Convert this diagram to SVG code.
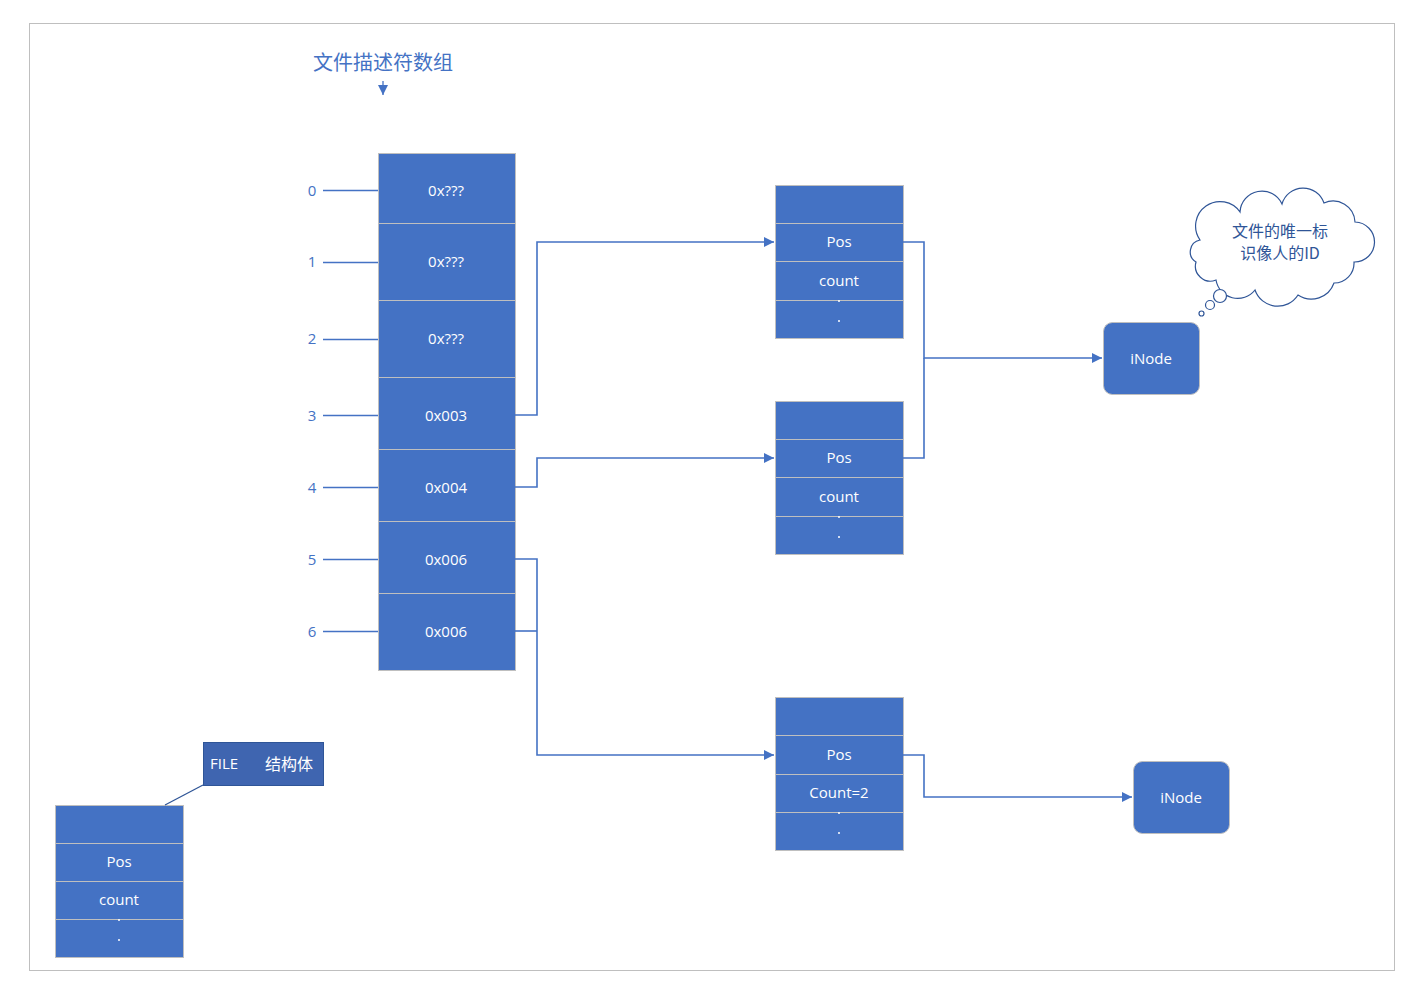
<svg xmlns="http://www.w3.org/2000/svg" width="1420" height="993" viewBox="0 0 1420 993">
<defs>
<marker id="arr" viewBox="0 0 10 10" refX="10" refY="5" markerWidth="10" markerHeight="10" markerUnits="userSpaceOnUse" orient="auto"><path d="M0,0 L10,5 L0,10 z" fill="#4472C4"/></marker>
<style>
.cell{fill:#4472C4;stroke:#BFBFBF;stroke-width:1}
.t{font-family:"Open Sans","Noto Sans","Noto Sans CJK SC",sans-serif;font-size:15px;fill:#FFFFFF;text-anchor:middle;dominant-baseline:central}
.lbl{font-family:"Open Sans","Noto Sans",sans-serif;font-size:15px;fill:#4472C4;text-anchor:middle;dominant-baseline:central}
.ln{stroke:#4472C4;stroke-width:1.3;fill:none}
.con{stroke:#4472C4;stroke-width:1.6;fill:none}
</style>
</defs>
<rect x="0" y="0" width="1420" height="993" fill="#FFFFFF"/>
<rect x="29.5" y="23.5" width="1365" height="947" fill="none" stroke="#BFBFBF" stroke-width="1"/>

<g id="title">
<text x="383" y="61" style="font-family:'Noto Sans CJK SC',sans-serif;font-size:20px;fill:#4472C4;text-anchor:middle;dominant-baseline:central">文件描述符数组</text>
<line x1="383" y1="81" x2="383" y2="95" class="ln" marker-end="url(#arr)"/>
</g>

<g id="fd-array">
<rect class="cell" x="378.5" y="153.5" width="137" height="70"/>
<rect class="cell" x="378.5" y="223.5" width="137" height="77"/>
<rect class="cell" x="378.5" y="300.5" width="137" height="77"/>
<rect class="cell" x="378.5" y="377.5" width="137" height="72"/>
<rect class="cell" x="378.5" y="449.5" width="137" height="72"/>
<rect class="cell" x="378.5" y="521.5" width="137" height="72"/>
<rect class="cell" x="378.5" y="593.5" width="137" height="77"/>
<text class="t" x="446" y="190">0x???</text>
<text class="t" x="446" y="261">0x???</text>
<text class="t" x="446" y="338">0x???</text>
<text class="t" x="446" y="415">0x003</text>
<text class="t" x="446" y="487">0x004</text>
<text class="t" x="446" y="559">0x006</text>
<text class="t" x="446" y="631">0x006</text>
</g>

<g id="indices">
<text class="lbl" x="312" y="190">0</text>
<text class="lbl" x="312" y="261">1</text>
<text class="lbl" x="312" y="338">2</text>
<text class="lbl" x="312" y="415">3</text>
<text class="lbl" x="312" y="487">4</text>
<text class="lbl" x="312" y="559">5</text>
<text class="lbl" x="312" y="631">6</text>
<line class="ln" x1="323" y1="190.5" x2="378" y2="190.5"/>
<line class="ln" x1="323" y1="262.5" x2="378" y2="262.5"/>
<line class="ln" x1="323" y1="339.5" x2="378" y2="339.5"/>
<line class="ln" x1="323" y1="415.5" x2="378" y2="415.5"/>
<line class="ln" x1="323" y1="487.5" x2="378" y2="487.5"/>
<line class="ln" x1="323" y1="559.5" x2="378" y2="559.5"/>
<line class="ln" x1="323" y1="631.5" x2="378" y2="631.5"/>
</g>

<g id="file1">
<rect class="cell" x="775.5" y="185.5" width="128" height="38"/>
<rect class="cell" x="775.5" y="223.5" width="128" height="38"/>
<rect class="cell" x="775.5" y="261.5" width="128" height="39"/>
<rect class="cell" x="775.5" y="300.5" width="128" height="38"/>
<text class="t" x="839" y="241">Pos</text>
<text class="t" x="839" y="280">count</text>
<circle cx="839" cy="301" r="1" fill="#FFFFFF"/>
<circle cx="839" cy="321" r="1" fill="#FFFFFF"/>
</g>

<g id="file2">
<rect class="cell" x="775.5" y="401.5" width="128" height="38"/>
<rect class="cell" x="775.5" y="439.5" width="128" height="38"/>
<rect class="cell" x="775.5" y="477.5" width="128" height="39"/>
<rect class="cell" x="775.5" y="516.5" width="128" height="38"/>
<text class="t" x="839" y="457">Pos</text>
<text class="t" x="839" y="496">count</text>
<circle cx="839" cy="517" r="1" fill="#FFFFFF"/>
<circle cx="839" cy="537" r="1" fill="#FFFFFF"/>
</g>

<g id="file3">
<rect class="cell" x="775.5" y="697.5" width="128" height="38"/>
<rect class="cell" x="775.5" y="735.5" width="128" height="39"/>
<rect class="cell" x="775.5" y="774.5" width="128" height="38"/>
<rect class="cell" x="775.5" y="812.5" width="128" height="38"/>
<text class="t" x="839" y="754">Pos</text>
<text class="t" x="839" y="792">Count=2</text>
<circle cx="839" cy="813" r="1" fill="#FFFFFF"/>
<circle cx="839" cy="833" r="1" fill="#FFFFFF"/>
</g>

<g id="file-legend">
<rect class="cell" x="55.5" y="805.5" width="128" height="38"/>
<rect class="cell" x="55.5" y="843.5" width="128" height="38"/>
<rect class="cell" x="55.5" y="881.5" width="128" height="38"/>
<rect class="cell" x="55.5" y="919.5" width="128" height="38"/>
<text class="t" x="119" y="861">Pos</text>
<text class="t" x="119" y="899">count</text>
<circle cx="119" cy="920" r="1" fill="#FFFFFF"/>
<circle cx="119" cy="940" r="1" fill="#FFFFFF"/>
</g>

<g id="file-callout">
<line x1="203" y1="785" x2="165" y2="805" stroke="#2F5597" stroke-width="1.3"/>
<rect x="203.5" y="742.5" width="120" height="43" fill="#3F65B0" stroke="#2F5597" stroke-width="1"/>
<text x="210" y="763" style="font-family:'Open Sans','Noto Sans',sans-serif;font-size:15px;fill:#FFFFFF;dominant-baseline:central">FILE</text>
<text x="289" y="763" style="font-family:'Noto Sans CJK SC',sans-serif;font-size:16px;fill:#FFFFFF;text-anchor:middle;dominant-baseline:central">结构体</text>
</g>

<g id="inode1">
<rect x="1103.5" y="322.5" width="96" height="72" rx="9" fill="#4472C4" stroke="#BFBFBF" stroke-width="1"/>
<text class="t" x="1151" y="358">iNode</text>
</g>

<g id="inode2">
<rect x="1133.5" y="761.5" width="96" height="72" rx="9" fill="#4472C4" stroke="#BFBFBF" stroke-width="1"/>
<text class="t" x="1181" y="797">iNode</text>
</g>

<g id="cloud">
<path d="M1200,240 A20,20 0 0 1 1240,212 A22,22 0 0 1 1282,204 A22,22 0 0 1 1324,203 A22,22 0 0 1 1355,222 A20,20 0 0 1 1354,262 A20,20 0 0 1 1334,283 A24,24 0 0 1 1298,295 A24,24 0 0 1 1255,290 A22,22 0 0 1 1216,280 A15,15 0 0 1 1196,262 A12,12 0 0 1 1200,240 Z" fill="#FFFFFF" stroke="#2F5597" stroke-width="1.2"/>
<circle cx="1220" cy="296" r="6.5" fill="#FFFFFF" stroke="#2F5597" stroke-width="1.2"/>
<circle cx="1210" cy="305" r="4.5" fill="#FFFFFF" stroke="#2F5597" stroke-width="1.2"/>
<circle cx="1201.5" cy="313.5" r="2.5" fill="#FFFFFF" stroke="#2F5597" stroke-width="1.2"/>
<text x="1280" y="230" style="font-family:'Noto Sans CJK SC',sans-serif;font-size:16px;fill:#2F5597;text-anchor:middle;dominant-baseline:central">文件的唯一标</text>
<text x="1280" y="252" style="font-family:'Noto Sans CJK SC',sans-serif;font-size:16px;fill:#2F5597;text-anchor:middle;dominant-baseline:central">识像人的ID</text>
</g>

<g id="connectors">
<path class="con" d="M515,415 H537 V242 H774" marker-end="url(#arr)"/>
<path class="con" d="M515,487 H537 V458 H774" marker-end="url(#arr)"/>
<path class="con" d="M515,559 H537 V755 H774" marker-end="url(#arr)"/>
<path class="con" d="M515,631 H537"/>
<path class="con" d="M903,242 H924 V358 H1102" marker-end="url(#arr)"/>
<path class="con" d="M903,458 H924 V358"/>
<path class="con" d="M903,755 H924 V797 H1132" marker-end="url(#arr)"/>
</g>
</svg>
